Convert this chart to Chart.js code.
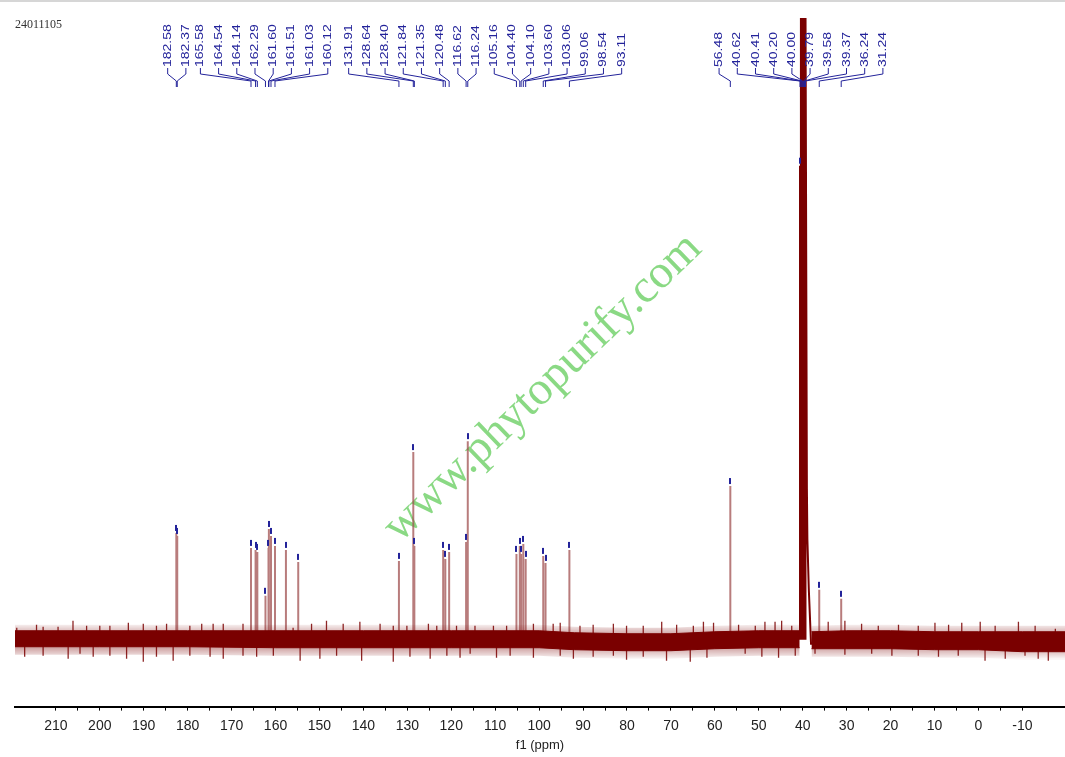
<!DOCTYPE html>
<html lang="en">
<head>
<meta charset="UTF-8">
<title>13C NMR - 24011105</title>
<script src="https://cdn.jsdelivr.net/npm/chart.js@4"></script>
<style>
  html, body { margin: 0; padding: 0; background: #fff; }
  .wrap { position: relative; width: 1065px; height: 757px; }
</style>
</head>
<body>
<div class="wrap"><canvas id="nmr" width="1065" height="757"></canvas></div>
<script>
// sample id printed top left
const sampleId = '24011105';

// x axis (ppm), drawn right to left
const ppmMin = -19.7;
const ppmMax = 219.3;

// picked peaks: shift (ppm) and height above baseline (arbitrary units)
const peakShifts  = [182.58, 182.37, 165.58, 164.54, 164.14, 162.29, 161.60, 161.51, 161.03, 160.12, 157.63, 154.83,
                     131.91, 128.64, 128.40, 121.84, 121.35, 120.48, 116.62, 116.24, 105.16, 104.40, 104.10, 103.60,
                     103.06, 99.06, 98.54, 93.11, 56.48, 36.24, 31.24];
const peakHeights = [107, 104, 92, 90, 88, 44, 92, 111, 104, 94, 90, 78,
                     79, 188, 94, 90, 81, 88, 98, 199, 86, 94, 86, 96,
                     81, 84, 77, 90, 154, 50, 41];

// DMSO-d6 septet (goes off the top of the plot)
const solventShifts  = [40.62, 40.41, 40.20, 40.00, 39.79, 39.58, 39.37];
const solventHeights = [475, 1500, 2900, 3400, 2900, 1500, 640];
// right flank of the solvent signal
const tailShifts  = [39.37, 39.05, 38.94, 38.62, 38.10];
const tailHeights = [640, 151, 101, 51, -5];

// printed peak list
const labelShifts = [182.58, 182.37, 165.58, 164.54, 164.14, 162.29, 161.60, 161.51, 161.03, 160.12,
                     131.91, 128.64, 128.40, 121.84, 121.35, 120.48, 116.62, 116.24,
                     105.16, 104.40, 104.10, 103.60, 103.06, 99.06, 98.54, 93.11,
                     56.48, 40.62, 40.41, 40.20, 40.00, 39.79, 39.58, 39.37, 36.24, 31.24];

// baseline noise: dense core and the fuzzy zone around it
const bandShifts = [219.3, 200, 180, 160, 140, 120, 100, 92, 80, 70, 60, 50, 40.7, 39.4, 38.0, 30, 20, 10, 0, -10, -19.7];
const bandTop    = [9, 9, 9, 9, 9, 9, 9, 7, 6, 6, 8, 9, 9, null, 8, 9, 9, 8, 8, 8, 8];
const bandBottom = [-7, -7, -7, -8, -8, -8, -8, -10, -11, -11, -9, -8, -8, null, -9, -9, -9, -10, -10, -12, -12];
const haloTop    = [15, 15, 15, 15, 15, 15, 15, 13, 12, 12, 14, 15, 15, null, 14, 15, 15, 14, 14, 14, 14];
const haloBottom = [-15, -15, -15, -16, -16, -16, -16, -18, -19, -19, -17, -16, -16, null, -17, -17, -17, -18, -18, -20, -20];

// baseline noise: larger spikes
const upShifts  = [218.9, 214.4, 212.9, 209.5, 206.1, 203.0, 200.0, 197.7, 193.5, 190.1, 187.1, 184.8, 179.5, 176.8, 174.2, 171.9,
                   167.4, 156.0, 151.8, 148.4, 144.6, 140.8, 136.2, 133.2, 130.1, 125.2, 123.3, 118.8, 114.6, 110.4, 107.4, 101.3,
                   96.8, 95.2, 90.7, 87.7, 83.1, 80.1, 76.3, 72.1, 68.7, 64.9, 62.6, 60.3, 54.6, 50.8, 48.6, 46.3,
                   44.8, 42.5, 34.2, 30.4, 26.6, 22.8, 18.2, 13.7, 9.9, 6.8, 3.8, -0.4, -3.8, -9.1, -12.9, -17.5];
const upHeights = [12, 15, 13, 13, 19, 14, 14, 14, 17, 16, 14, 16, 14, 16, 16, 16,
                   16, 12, 16, 19, 16, 18, 16, 14, 14, 16, 14, 14, 14, 14, 14, 16,
                   16, 17, 14, 15, 16, 14, 14, 18, 15, 14, 18, 17, 15, 14, 18, 18,
                   19, 14, 18, 19, 16, 14, 15, 14, 17, 15, 17, 18, 14, 18, 14, 11];
const downShifts  = [217.1, 212.9, 207.2, 204.5, 201.5, 197.7, 193.9, 190.1, 187.1, 183.3, 179.5, 174.9, 171.9, 167.4,
                     164.3, 160.5, 154.4, 149.9, 146.1, 140.4, 133.2, 129.4, 124.8, 121.0, 118.0, 115.7, 109.7, 106.6,
                     101.3, 95.2, 92.2, 87.7, 83.1, 80.1, 76.3, 71.0, 65.6, 61.8, 53.1, 49.3, 45.5, 41.7,
                     37.2, 30.4, 24.3, 19.7, 13.7, 9.1, 4.6, -1.5, -6.1, -10.6, -13.6, -15.9];
const downHeights = [-17, -16, -19, -14, -17, -16, -19, -22, -17, -21, -16, -17, -19, -16,
                     -17, -16, -21, -19, -16, -21, -22, -17, -19, -16, -18, -14, -18, -16,
                     -18, -16, -19, -17, -16, -20, -17, -21, -22, -18, -14, -17, -18, -16,
                     -14, -15, -14, -16, -16, -17, -16, -21, -19, -16, -19, -21];

const SPEC = '#7a0000';
const NAVY = '#23239a';

// vertical sticks, broken between each other
function sticks(xs, hs) {
    const pts = [];
    xs.forEach((x, i) => {
        pts.push({ x: x, y: 0 }, { x: x, y: hs[i] }, { x: x, y: 0 }, { x: x, y: null });
    });
    return pts;
}

function pairs(xs, ys) {
    return xs.map((x, i) => ({ x: x, y: ys[i] }));
}

// soft fill for the fuzzy part of the noise
function haloFill(context) {
    const chart = context.chart;
    if (!chart.chartArea) return 'rgba(122, 0, 0, 0.25)';
    const y = chart.scales.y;
    const g = chart.ctx.createLinearGradient(0, y.getPixelForValue(16), 0, y.getPixelForValue(-19));
    g.addColorStop(0, 'rgba(122, 0, 0, 0.04)');
    g.addColorStop(0.35, 'rgba(122, 0, 0, 0.4)');
    g.addColorStop(0.65, 'rgba(122, 0, 0, 0.4)');
    g.addColorStop(1, 'rgba(122, 0, 0, 0.04)');
    return g;
}

// spread labels left to right, merging clusters that would overlap
function spreadLabels(ideal, gap, minSep) {
    let clusters = ideal.map(x => ({ n: 1, sum: x }));
    let merged = true;
    while (merged) {
        merged = false;
        for (let i = 0; i < clusters.length - 1; i++) {
            const a = clusters[i], b = clusters[i + 1];
            const aRight = a.sum / a.n + (a.n - 1) * gap / 2;
            const bLeft = b.sum / b.n - (b.n - 1) * gap / 2;
            if (bLeft - aRight < minSep) {
                clusters.splice(i, 2, { n: a.n + b.n, sum: a.sum + b.sum });
                merged = true;
                break;
            }
        }
    }
    const out = [];
    clusters.forEach(c => {
        const mid = c.sum / c.n;
        for (let k = 0; k < c.n; k++) out.push(mid + (k - (c.n - 1) / 2) * gap);
    });
    return out;
}

const decorations = {
    id: 'decorations',
    beforeDatasetsDraw(chart) {
        const ctx = chart.ctx;
        // watermark
        ctx.save();
        ctx.translate(543, 388);
        ctx.rotate(-44 * Math.PI / 180);
        ctx.font = '47px "Liberation Serif"';
        ctx.fillStyle = 'rgba(118, 210, 110, 0.85)';
        ctx.textAlign = 'center';
        ctx.textBaseline = 'middle';
        ctx.fillText('www.phytopurify.com', 0, 0);
        ctx.restore();
    },
    afterDatasetsDraw(chart) {
        const ctx = chart.ctx;
        const xs = chart.scales.x, ys = chart.scales.y;
        const area = chart.chartArea;

        ctx.save();
        // page edge line and sample id
        ctx.fillStyle = '#d6d6d6';
        ctx.fillRect(0, 0, chart.width, 2);
        ctx.fillStyle = '#333';
        ctx.font = '12px "Liberation Serif"';
        ctx.textBaseline = 'middle';
        ctx.fillText(sampleId, 15, 25);

        // peak-pick markers
        ctx.fillStyle = NAVY;
        const allShifts = peakShifts.concat(solventShifts);
        const allHeights = peakHeights.concat(solventHeights);
        allShifts.forEach((p, i) => {
            const top = ys.getPixelForValue(allHeights[i]);
            if (top - 8 < area.top) return;
            ctx.fillRect(Math.round(xs.getPixelForValue(p)) - 1, top - 8, 2, 6);
        });

        // peak labels with connectors
        const ideal = labelShifts.map(p => xs.getPixelForValue(p));
        const placed = spreadLabels(ideal, 18.2, 12);
        ctx.strokeStyle = NAVY;
        ctx.lineWidth = 1;
        ctx.font = '11px "Liberation Sans"';
        ctx.textAlign = 'left';
        ctx.textBaseline = 'middle';
        labelShifts.forEach((p, i) => {
            const lx = placed[i], px = ideal[i];
            ctx.beginPath();
            ctx.moveTo(lx, 68);
            ctx.lineTo(lx, 74);
            ctx.lineTo(px, 81);
            ctx.lineTo(px, 87);
            ctx.stroke();
            ctx.save();
            ctx.translate(lx, 67);
            ctx.rotate(-Math.PI / 2);
            ctx.scale(1.27, 1);
            ctx.fillText(p.toFixed(2), 0, 0);
            ctx.restore();
        });
        ctx.restore();
    }
};

new Chart(document.getElementById('nmr').getContext('2d'), {
    type: 'scatter',
    data: {
        datasets: [
            {
                label: 'noise halo top',
                data: pairs(bandShifts, haloTop),
                showLine: true,
                borderColor: 'rgba(0, 0, 0, 0)',
                borderWidth: 0,
                backgroundColor: haloFill,
                pointRadius: 0,
                fill: '+1',
                spanGaps: false
            },
            {
                label: 'noise halo bottom',
                data: pairs(bandShifts, haloBottom),
                showLine: true,
                borderColor: 'rgba(0, 0, 0, 0)',
                borderWidth: 0,
                pointRadius: 0,
                fill: false,
                spanGaps: false
            },
            {
                label: 'noise top',
                data: pairs(bandShifts, bandTop),
                showLine: true,
                borderColor: SPEC,
                borderWidth: 1,
                backgroundColor: SPEC,
                pointRadius: 0,
                fill: '+1',
                spanGaps: false
            },
            {
                label: 'noise bottom',
                data: pairs(bandShifts, bandBottom),
                showLine: true,
                borderColor: SPEC,
                borderWidth: 1,
                pointRadius: 0,
                fill: false,
                spanGaps: false
            },
            {
                label: 'noise spikes',
                data: sticks(upShifts.concat(downShifts), upHeights.concat(downHeights)),
                showLine: true,
                borderColor: 'rgba(122, 0, 0, 0.85)',
                borderWidth: 1.3,
                pointRadius: 0,
                spanGaps: false
            },
            {
                label: 'solvent',
                data: sticks(solventShifts, solventHeights).concat(pairs(tailShifts, tailHeights)),
                showLine: true,
                borderColor: SPEC,
                borderWidth: 2,
                pointRadius: 0,
                spanGaps: false
            },
            {
                label: 'peaks',
                data: sticks(peakShifts, peakHeights),
                showLine: true,
                borderColor: 'rgba(160, 80, 80, 0.75)',
                borderWidth: 2,
                pointRadius: 0,
                spanGaps: false
            }
        ]
    },
    options: {
        responsive: false,
        animation: false,
        events: [],
        layout: { padding: { left: 15, right: 0, top: 18, bottom: 0 } },
        plugins: {
            legend: { display: false },
            tooltip: { enabled: false }
        },
        scales: {
            x: {
                type: 'linear',
                reverse: true,
                min: ppmMin,
                max: ppmMax,
                afterBuildTicks: scale => {
                    scale.ticks = scale.ticks.filter(t => Math.abs(t.value % 5) < 1e-6);
                },
                ticks: {
                    stepSize: 5,
                    autoSkip: false,
                    maxRotation: 0,
                    padding: 7,
                    color: '#222',
                    font: { family: '"Liberation Sans"', size: 14 },
                    callback: v => (Math.abs(v % 10) < 1e-6 ? String(v) : '')
                },
                grid: { drawOnChartArea: false, tickLength: 4, color: '#000', tickWidth: 1 },
                border: { display: true, color: '#000', width: 2 },
                title: {
                    display: true,
                    text: 'f1 (ppm)',
                    color: '#222',
                    font: { family: '"Liberation Sans"', size: 13 },
                    padding: { top: -4, bottom: 4 }
                }
            },
            y: {
                display: false,
                min: -67,
                max: 623
            }
        }
    },
    plugins: [decorations]
});
</script>
</body>
</html>
